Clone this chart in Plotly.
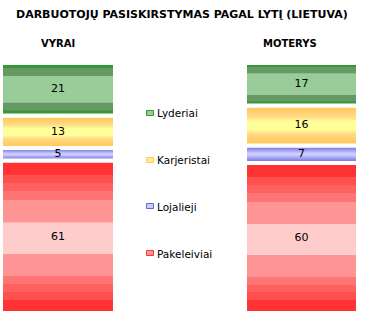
import plotly.graph_objects as go

categories = ["VYRAI", "MOTERYS"]
series_names = ["Lyderiai", "Karjeristai", "Lojalieji", "Pakeleiviai"]
lyderiai = [21, 17]
karjeristai = [13, 16]
lojalieji = [5, 7]
pakeleiviai = [61, 60]
title_text = "DARBUOTOJŲ PASISKIRSTYMAS PAGAL LYTĮ (LIETUVA)"

values = {
    "Lyderiai": lyderiai,
    "Karjeristai": karjeristai,
    "Lojalieji": lojalieji,
    "Pakeleiviai": pakeleiviai,
}

scales = {
    "Lyderiai": [[0, "#339933"], [0.09, "#339933"], [0.1, "#669966"], [0.24, "#669966"],
                 [0.25, "#99CC99"], [0.75, "#99CC99"], [0.76, "#669966"], [0.9, "#669966"],
                 [0.91, "#339933"], [1, "#339933"]],
    "Karjeristai": [[0, "#FFCC55"], [0.12, "#FFCC66"], [0.3, "#FFDD88"], [0.4, "#FFFF99"],
                    [0.6, "#FFFF99"], [0.7, "#FFDD88"], [0.88, "#FFCC66"], [1, "#FFCC55"]],
    "Lojalieji": [[0, "#6666DD"], [0.25, "#9999EE"], [0.45, "#CCCCFF"], [0.55, "#CCCCFF"],
                  [0.75, "#9999EE"], [1, "#6666DD"]],
    "Pakeleiviai": [[0, "#FF3333"], [0.087, "#FF3333"], [0.088, "#FF5050"], [0.14, "#FF5050"],
                    [0.141, "#FF6060"], [0.187, "#FF6060"], [0.188, "#FF7575"], [0.24, "#FF7575"],
                    [0.241, "#FF9494"], [0.387, "#FF9494"], [0.388, "#FFCCCC"], [0.593, "#FFCCCC"],
                    [0.594, "#FF9494"], [0.74, "#FF9494"], [0.741, "#FF7575"], [0.8, "#FF7575"],
                    [0.801, "#FF6060"], [0.853, "#FF6060"], [0.854, "#FF5050"], [0.907, "#FF5050"],
                    [0.908, "#FF3333"], [1, "#FF3333"]],
}
legend_fill = {"Lyderiai": "#99CC99", "Karjeristai": "#FFEE88", "Lojalieji": "#CCCCFF", "Pakeleiviai": "#FF9999"}
legend_line = {"Lyderiai": "#339933", "Karjeristai": "#FFCC55", "Lojalieji": "#6666DD", "Pakeleiviai": "#FF3333"}

FONT = "DejaVu Sans"
fig = go.Figure()

stack_order = ["Pakeleiviai", "Lojalieji", "Karjeristai", "Lyderiai"]
for i, cat in enumerate(categories):
    xa = "x" if i == 0 else "x2"
    ya = "y" if i == 0 else "y2"
    base = 0
    tx, ty, tt = [], [], []
    for s in stack_order:
        v = values[s][i]
        top = base + v
        fig.add_trace(go.Scatter(
            x=[0, 1, 1, 0, 0], y=[base, base, top, top, base],
            mode="lines", fill="toself",
            fillgradient=dict(type="vertical", colorscale=scales[s]),
            line=dict(color="white", width=4),
            xaxis=xa, yaxis=ya, showlegend=False, hoverinfo="skip",
        ))
        tx.append(0.5)
        ty.append((base + top) / 2)
        tt.append(str(v))
        base = top
    fig.add_trace(go.Scatter(
        x=tx, y=ty, text=tt, mode="text",
        textfont=dict(family=FONT, size=11, color="black"),
        xaxis=xa, yaxis=ya, showlegend=False, hoverinfo="skip",
    ))

# legend entries (text from native legend; swatches drawn next to the text)
for s in series_names:
    fig.add_trace(go.Scatter(
        x=[None], y=[None], mode="markers", name=s, legendgroup=s,
        marker=dict(symbol="square", size=7, color="rgba(0,0,0,0)"),
    ))

W, H = 392, 330
legend_top = 98
item_centers = [113, 160, 206, 253]
shapes = []
for s, cy in zip(series_names, item_centers):
    shapes.append(dict(type="rect", xref="paper", yref="paper",
                       x0=146.5 / W, x1=153.5 / W, y0=1 - (cy + 2.5) / H, y1=1 - (cy - 2.5) / H,
                       fillcolor=legend_fill[s], line=dict(color=legend_line[s], width=1)))

fig.update_layout(
    width=W, height=H,
    margin=dict(l=0, r=0, t=0, b=0),
    paper_bgcolor="white", plot_bgcolor="white",
    showlegend=True,
    legend=dict(x=117 / W, y=1 - legend_top / H, xanchor="left", yanchor="top",
                font=dict(family=FONT, size=10.5, color="black"),
                tracegroupgap=28, bgcolor="rgba(0,0,0,0)", itemclick=False),
    xaxis=dict(domain=[1 / W, 115 / W], range=[0, 1], visible=False, fixedrange=True),
    xaxis2=dict(domain=[245 / W, 358 / W], range=[0, 1], visible=False, fixedrange=True),
    yaxis=dict(domain=[1 - 313 / H, 1 - 63 / H], range=[0, 100], visible=False, anchor="x"),
    yaxis2=dict(domain=[1 - 313 / H, 1 - 63 / H], range=[0, 100], visible=False, anchor="x2"),
    shapes=shapes,
    annotations=[
        dict(text=f"<b>{title_text}</b>", x=182 / W, y=1 - 14 / H, xref="paper", yref="paper",
             showarrow=False, font=dict(family=FONT, size=11, color="black"),
             xanchor="center", yanchor="middle"),
        dict(text=f"<b>{categories[0]}</b>", x=58 / W, y=1 - 43 / H, xref="paper", yref="paper",
             showarrow=False, font=dict(family=FONT, size=10, color="black"),
             xanchor="center", yanchor="middle"),
        dict(text=f"<b>{categories[1]}</b>", x=290 / W, y=1 - 43 / H, xref="paper", yref="paper",
             showarrow=False, font=dict(family=FONT, size=10, color="black"),
             xanchor="center", yanchor="middle"),
    ],
)

fig.write_html("out.html")
